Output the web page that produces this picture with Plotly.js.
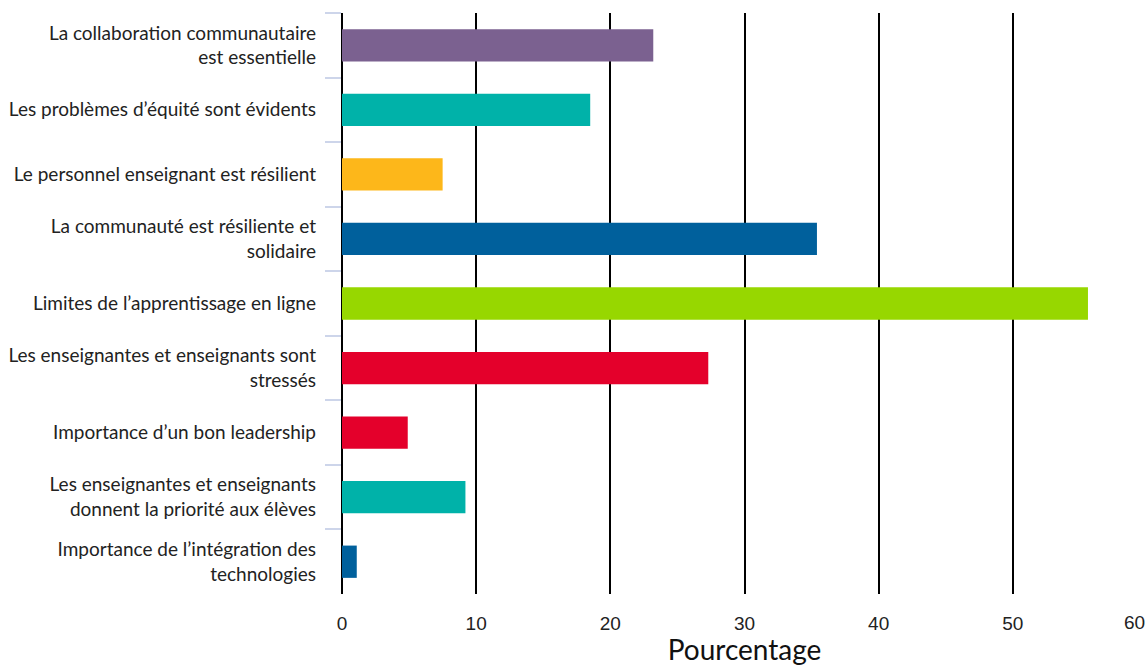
<!DOCTYPE html>
<html>
<head>
<meta charset="utf-8">
<script src="https://cdn.plot.ly/plotly-3.0.1.min.js"></script>
<style>html,body{margin:0;padding:0;background:#fff;}#chart{width:1147px;height:666px;}</style>
</head>
<body>
<div id="chart"></div>
<script>
const categories = [
  "La collaboration communautaire<br>est essentielle",
  "Les problèmes d’équité sont évidents",
  "Le personnel enseignant est résilient",
  "La communauté est résiliente et<br>solidaire",
  "Limites de l’apprentissage en ligne",
  "Les enseignantes et enseignants sont<br>stressés",
  "Importance d’un bon leadership",
  "Les enseignantes et enseignants<br>donnent la priorité aux élèves",
  "Importance de l’intégration des<br>technologies"
];
const values = [23.2, 18.5, 7.5, 35.4, 55.6, 27.3, 4.9, 9.2, 1.1];
const colors = ["#7B6190", "#00B2A9", "#FDB71A", "#00609C", "#97D700", "#E4002B", "#E4002B", "#00B2A9", "#00609C"];
const xTicks = [0, 10, 20, 30, 40, 50, 60];

const tickFont = {family: "Liberation Sans", size: 19, color: "#222"};
const lastTick = xTicks[xTicks.length - 1];

const trace = {
  type: "bar",
  orientation: "h",
  y: categories,
  x: values,
  marker: {color: colors},
  width: 0.5,
  hoverinfo: "x+y"
};

const layout = {
  width: 1147,
  height: 666,
  margin: {l: 342, r: 0, t: 13, b: 72},
  paper_bgcolor: "#fff",
  plot_bgcolor: "#fff",
  showlegend: false,
  xaxis: {
    range: [0, 60],
    tickvals: xTicks.slice(0, -1),
    ticktext: xTicks.slice(0, -1).map(String),
    showgrid: true,
    gridcolor: "#000",
    gridwidth: 2,
    zeroline: true,
    zerolinecolor: "#000",
    zerolinewidth: 2,
    showline: false,
    ticks: "",
    ticklabelstandoff: 16,
    tickfont: tickFont,
    title: {text: "Pourcentage", font: {family: "Lato, sans-serif", size: 28, color: "#111"}, standoff: 6}
  },
  yaxis: {
    type: "category",
    autorange: "reversed",
    showgrid: false,
    zeroline: false,
    showline: false,
    ticks: "outside",
    tickson: "boundaries",
    ticklen: 16,
    tickwidth: 2,
    tickcolor: "#cdd5ea",
    ticklabelstandoff: 25,
    tickfont: {family: "Lato, sans-serif", size: 19, color: "#222"}
  },
  annotations: [{
    xref: "x", yref: "paper",
    x: lastTick, y: 0,
    text: String(lastTick),
    showarrow: false,
    xanchor: "right", yanchor: "top",
    xshift: 0, yshift: -16,
    font: tickFont
  }]
};

Plotly.newPlot("chart", [trace], layout, {displayModeBar: false, responsive: false});
</script>
</body>
</html>
